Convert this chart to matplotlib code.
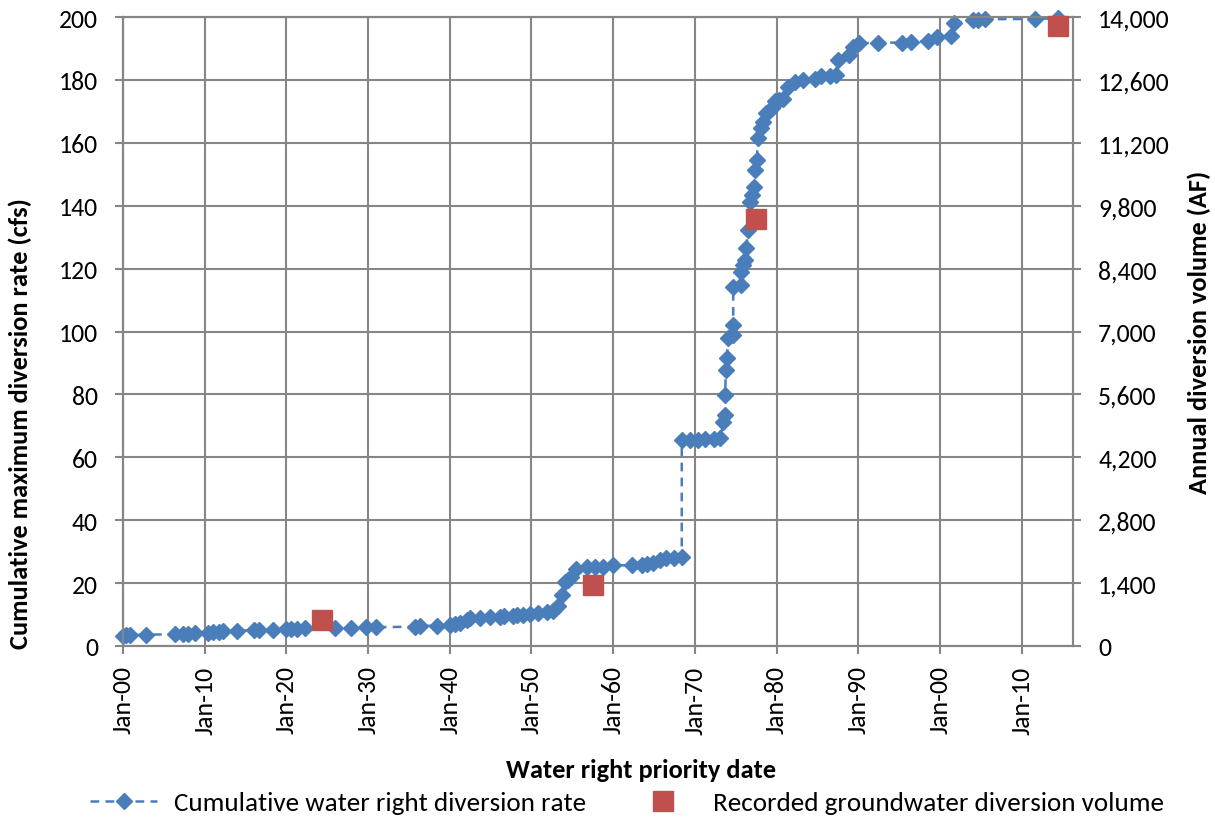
import numpy as np
import matplotlib as mpl
mpl.use('Agg')
import matplotlib.pyplot as plt
from matplotlib import font_manager
from matplotlib.ticker import FuncFormatter, MultipleLocator
from matplotlib.lines import Line2D

names = set(f.name for f in font_manager.fontManager.ttflist)
family = 'Carlito' if 'Carlito' in names else 'Lato'
mpl.rcParams['font.family'] = [family, 'DejaVu Sans']

# water right priority dates (decimal years) and cumulative rate (cfs)
right_year = [1900.0, 1900.4, 1900.9, 1902.8, 1906.4, 1907.4, 1908.0, 1908.8,
              1910.4, 1911.0, 1911.7, 1912.3, 1913.9, 1916.0, 1916.6, 1918.4,
              1920.0, 1920.6, 1921.3, 1922.3, 1925.9, 1927.9, 1929.8, 1931.0,
              1935.7, 1936.3, 1938.4, 1940.0, 1940.6, 1941.2, 1942.1, 1942.5,
              1943.7, 1944.9, 1946.1, 1946.7, 1947.7, 1948.2, 1949.0, 1949.8,
              1950.8, 1951.9, 1952.7, 1953.3, 1953.7, 1954.1, 1954.5, 1954.9,
              1955.5, 1956.8, 1957.8, 1958.8, 1960.0, 1962.3, 1963.5, 1964.1,
              1964.9, 1965.7, 1966.5, 1967.4, 1968.4, 1968.4, 1969.4, 1970.4,
              1971.3, 1972.3, 1973.1, 1973.5, 1973.7, 1973.7, 1973.8, 1973.9,
              1974.1, 1974.7, 1974.7, 1974.7, 1975.7, 1975.7, 1975.9, 1976.2,
              1976.3, 1976.5, 1976.7, 1977.0, 1977.3, 1977.4, 1977.6, 1977.7,
              1978.1, 1978.4, 1978.7, 1979.1, 1979.4, 1979.8, 1980.3, 1980.8,
              1981.4, 1982.3, 1983.3, 1984.7, 1985.5, 1986.5, 1987.3, 1987.5,
              1988.9, 1989.3, 1990.1, 1992.4, 1995.3, 1996.5, 1998.6, 1999.6,
              2001.4, 2001.7, 2004.1, 2004.7, 2005.5, 2011.6, 2014.5]
right_cfs = [3.3, 3.4, 3.5, 3.6, 3.7, 3.8, 3.9, 4.0,
             4.1, 4.3, 4.5, 4.7, 4.9, 5.0, 5.1, 5.2,
             5.3, 5.4, 5.5, 5.6, 5.7, 5.8, 5.9, 6.0,
             6.1, 6.3, 6.5, 6.7, 6.9, 7.3, 8.4, 8.9,
             9.0, 9.1, 9.2, 9.4, 9.6, 9.8, 10.0, 10.3,
             10.5, 10.8, 11.2, 12.8, 16.3, 20.5, 21.0, 22.0,
             24.5, 25.0, 25.1, 25.2, 25.6, 25.7, 25.8, 26.0,
             26.3, 27.5, 28.0, 28.1, 28.2, 65.4, 65.5, 65.6,
             65.7, 65.8, 66.2, 71.2, 73.3, 79.7, 87.7, 91.6,
             97.8, 98.8, 102.0, 114.2, 114.8, 119.0, 121.1, 122.7,
             126.4, 132.3, 141.3, 143.4, 146.1, 151.4, 154.6, 161.5,
             164.6, 166.5, 169.4, 170.2, 171.0, 173.2, 173.7, 173.9,
             177.9, 179.5, 180.0, 180.2, 181.1, 181.3, 181.6, 186.4,
             188.0, 190.6, 191.7, 191.8, 191.9, 192.0, 192.3, 193.8,
             193.9, 198.0, 199.1, 199.2, 199.3, 199.4, 199.6]

# recorded groundwater diversion volume (AF)
gw_year = [1924.4, 1957.5, 1977.5, 2014.4]
gw_af = [580, 1350, 9500, 13800]

tick_years = list(range(1900, 2011, 10))

blue = '#4A7EBB'
red = '#C0504D'
grid = '#868686'
fs = 18.5

fig = plt.figure(figsize=(12.15, 8.2), dpi=100)
ax = fig.add_axes([0.1012, 0.211, 0.782, 0.767])
ax2 = ax.twinx()

ax.plot(right_year, right_cfs, color=blue, lw=1.8, ls=(0, (3.5, 2.5)),
        marker='D', ms=8.5, mfc=blue, mec=blue, zorder=3, clip_on=False)
ax2.plot(gw_year, gw_af, ls='none', marker='s', ms=14, mfc=red, mec=red,
         zorder=3, clip_on=False)

ax.set_xlim(1900, 2016.3)
ax.set_ylim(0, 200)
ax2.set_ylim(0, 14000)
ax.yaxis.set_major_locator(MultipleLocator(20))
ax2.yaxis.set_major_locator(MultipleLocator(1400))
ax2.yaxis.set_major_formatter(FuncFormatter(lambda v, p: f'{int(v):,}'))
ax.set_xticks(tick_years)
ax.set_xticklabels([f'Jan-{y % 100:02d}' for y in tick_years], rotation=90)

ax.grid(True, color=grid, lw=1.5)
ax.set_axisbelow(True)
for a in (ax, ax2):
    for s in a.spines.values():
        s.set_color(grid)
        s.set_linewidth(1.5)
    a.tick_params(colors=grid, labelcolor='black', labelsize=fs,
                  direction='out', length=6, width=1.5, pad=12)
ax.tick_params(axis='x', pad=8)

ax.set_xlabel('Water right priority date', fontsize=19, fontweight='bold')
ax.xaxis.set_label_coords(0.545, -0.178)
ax.set_ylabel('Cumulative maximum diversion rate (cfs)', fontsize=19, fontweight='bold')
ax.yaxis.set_label_coords(-0.096, 0.355)
ax2.set_ylabel('Annual diversion volume (AF)', fontsize=19, fontweight='bold')
ax2.yaxis.set_label_coords(1.12, 0.5)

handles = [Line2D([], [], color=blue, lw=1.8, ls=(0, (3.5, 2.5)), marker='D', ms=8.5),
           Line2D([], [], ls='none', marker='s', ms=14, color=red)]
fig.legend(handles, ['Cumulative water right diversion rate',
                     'Recorded groundwater diversion volume'],
           loc='center', bbox_to_anchor=(0.516, 0.02), ncol=2, frameon=False,
           fontsize=19.5, columnspacing=1.6, handlelength=2.5, handletextpad=0.6)

fig.savefig('out.png', dpi=100)
